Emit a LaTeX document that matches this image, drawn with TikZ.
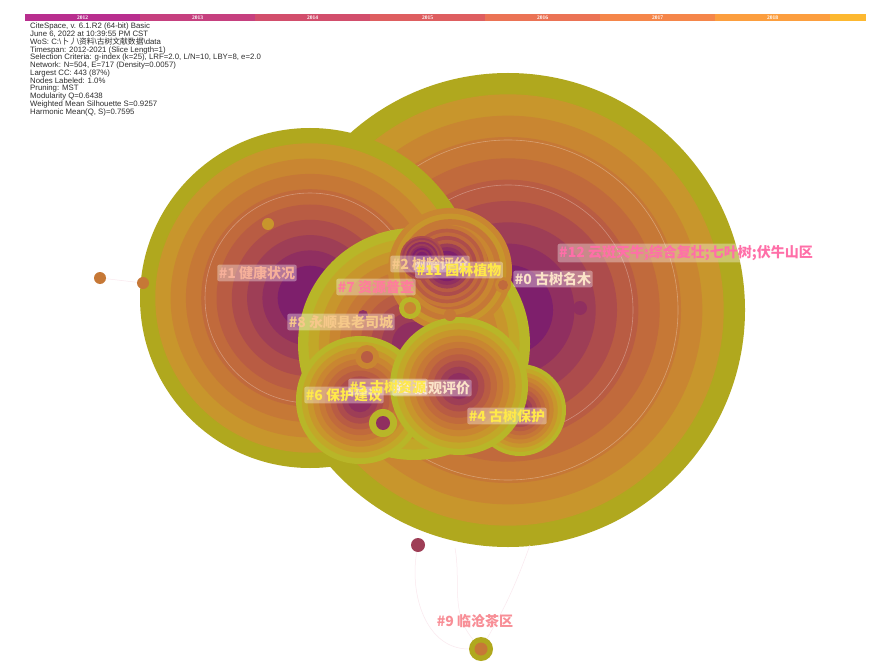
\documentclass[tikz,border=0pt]{standalone}
\usepackage{fontspec}
\setmainfont{Liberation Sans}
\newfontfamily\cjk{Noto Sans CJK SC}
\newfontfamily\yearfont{Liberation Serif}
\usepackage{tikz}
\definecolor{ring_a}{RGB}{176,168,30}
\definecolor{ring_b}{RGB}{200,150,44}
\definecolor{ring_c}{RGB}{201,134,49}
\definecolor{ring_d}{RGB}{198,120,54}
\definecolor{ring_e}{RGB}{193,106,60}
\definecolor{ring_f}{RGB}{185,92,67}
\definecolor{ring_g}{RGB}{173,76,76}
\definecolor{ring_h}{RGB}{158,62,86}
\definecolor{ring_i}{RGB}{144,47,96}
\definecolor{ring_j}{RGB}{126,31,108}
\definecolor{ring_l}{RGB}{184,182,40}
\definecolor{ring_m}{RGB}{194,168,40}
\definecolor{year_a}{RGB}{184,46,142}
\definecolor{year_b}{RGB}{198,64,127}
\definecolor{year_c}{RGB}{210,78,108}
\definecolor{year_d}{RGB}{222,94,96}
\definecolor{year_e}{RGB}{235,115,85}
\definecolor{year_f}{RGB}{245,134,74}
\definecolor{year_g}{RGB}{252,158,62}
\definecolor{year_h}{RGB}{253,184,48}
\definecolor{info_gray}{RGB}{45,45,45}
\definecolor{link_pink}{RGB}{250,232,238}
\definecolor{lab_peach}{RGB}{246,176,154}
\definecolor{lab_orange}{RGB}{246,200,138}
\definecolor{lab_yellow}{RGB}{255,233,74}
\definecolor{lab_pale}{RGB}{251,227,200}
\definecolor{lab_pink}{RGB}{255,124,156}
\definecolor{lab_rose}{RGB}{255,111,168}
\definecolor{lab_salmon}{RGB}{248,142,150}
\def\palbig{ring_a,ring_b,ring_c,ring_d,ring_e,ring_f,ring_g,ring_h,ring_i,ring_j}
\def\pallime{ring_l,ring_m,ring_b,ring_c,ring_d,ring_e,ring_f,ring_g,ring_h,ring_i}
\def\palwarm{ring_c,ring_b,ring_d,ring_c,ring_e,ring_d,ring_f,ring_g,ring_h,ring_i}
\def\paldark{ring_d,ring_f,ring_e,ring_g,ring_f,ring_h,ring_i,ring_j,ring_i,ring_j}
\def\paldeep{ring_g,ring_h,ring_g,ring_i,ring_h,ring_i,ring_j,ring_i,ring_j,ring_j}
% concentric year rings: name, centre, radius, colour list
\newcommand\treenode[4]{%
  \coordinate (#1) at (#2);
  \foreach \rc [count=\i from 0] in #4
    \fill[\rc] (#1) circle[radius={(#3)*(1-0.09*\i)*1pt}];
}

\begin{document}
\begin{tikzpicture}[x=1pt,y=-1pt]
    \tikzstyle{lbl}=[fill=white, fill opacity=0.35, text opacity=1, rounded corners=2pt, inner sep=1.6pt, font=\cjk\bfseries\fontsize{14}{16}\selectfont]
    \tikzstyle{dot}=[circle, inner sep=0pt]
    \tikzstyle{link}=[draw=link_pink, line width=0.5pt]
    \tikzstyle{trace}=[draw=white, draw opacity=0.3, line width=0.6pt]
    \tikzstyle{info}=[anchor=north west, align=left, inner sep=0pt, font=\fontsize{7.8}{7.75}\selectfont, text=info_gray]
    \tikzstyle{yr}=[inner sep=0pt, text=white, font=\yearfont\bfseries\fontsize{5.5}{6}\selectfont]

    \fill[white] (0,0) rectangle (896,668);
    \useasboundingbox (0,0) rectangle (896,668);

    \foreach \yy/\xa/\col in {2012/25/year_a,2013/140/year_b,2014/255/year_c,2015/370/year_d,2016/485/year_e,2017/600/year_f,2018/715/year_g}
    {
      \fill[\col] (\xa,14) rectangle ++(115,7);
      \node[yr] at (\xa+57.5,17.5) {\yy};
    }
    \fill[year_h] (830,14) rectangle (866,21);

    \node[info] (info) at (30,23) {CiteSpace, v. 6.1.R2 (64-bit) Basic\\
      June 6, 2022 at 10:39:55 PM CST\\
      WoS: C:\textbackslash{}{\cjk 卜丿}\textbackslash{}{\cjk 资料}\textbackslash{}{\cjk 古树文献数据}\textbackslash{}data\\
      Timespan: 2012-2021 (Slice Length=1)\\
      Selection Criteria: g-index (k=25), LRF=2.0, L/N=10, LBY=8, e=2.0\\
      Network: N=504, E=717 (Density=0.0057)\\
      Largest CC: 443 (87\%)\\
      Nodes Labeled: 1.0\%\\
      Pruning: MST\\
      Modularity Q=0.6438\\
      Weighted Mean Silhouette S=0.9257\\
      Harmonic Mean(Q, S)=0.7595};

    \treenode{c0}{508,310}{237}{\palbig}
    \draw[trace] (c0) circle[radius=170pt];
    \draw[trace] (c0) circle[radius=125pt];
    \treenode{c1}{310,298}{170}{\palbig}
    \draw[trace] (c1) circle[radius=105pt];
    \treenode{c7}{414,344}{116}{\pallime}
    \treenode{c2}{450,270}{62}{\palwarm}
    \treenode{c11}{447,266}{41}{\paldark}
    \treenode{c2in}{422,258}{22}{\paldeep}
    \treenode{c6}{360,400}{64}{\pallime}
    \treenode{c4}{520,410}{46}{\pallime}
    \treenode{c5}{459,386}{69}{\pallime}

    \node[dot, fill=ring_d, minimum size=12pt] (d1) at (100,278) {};
    \node[dot, fill=ring_d, minimum size=12pt] (d2) at (143,283) {};
    \node[dot, fill=ring_b, minimum size=12pt] (d3) at (268,224) {};
    \node[dot, fill=ring_i, minimum size=14pt] (d4) at (580,308) {};
    \node[dot, fill=ring_c, minimum size=16pt] (d5) at (503,285) {};
    \fill[ring_e] (d5) circle[radius=5pt];
    \node[dot, fill=ring_d, minimum size=12pt] (d6) at (450,315) {};
    \node[dot, fill=ring_l, minimum size=22pt] (d7) at (410,308) {};
    \fill[ring_c] (d7) circle[radius=6pt];
    \node[dot, fill=ring_c, minimum size=24pt] (d8) at (367,357) {};
    \fill[ring_f] (d8) circle[radius=6pt];
    \node[dot, fill=ring_l, minimum size=28pt] (d9) at (383,423) {};
    \fill[ring_i] (d9) circle[radius=7pt];
    \node[dot, fill=ring_i, minimum size=10pt] (d10) at (363,315) {};
    \node[dot, fill=ring_h, minimum size=14pt] (d11) at (418,545) {};
    \node[dot, fill=ring_a, minimum size=24pt] (d12) at (481,649) {};
    \fill[ring_d] (d12) circle[radius=6.5pt];

    \coordinate (e1) at (455,548);
    \coordinate (e2) at (530,545);
    \path[link]
     (d1) edge[] (d2)
     (d11) edge[out=-100, in=180] (d12)
     (e1) edge[out=-80, in=130] (d12)
     (e2) edge[out=-110, in=60] (d12)
     ;

    \node[lbl, text=lab_peach] (l1) at (257,273) {\#1 健康状况};
    \node[lbl, text=lab_orange] (l2) at (430,264) {\#2 树龄评价};
    \node[lbl, text=lab_yellow] (l11) at (459,270) {\#11 园林植物};
    \node[lbl, text=lab_pale] (l0) at (553,279) {\#0 古树名木};
    \node[lbl, text=lab_pink] (l7) at (376,287) {\#7 资源普查};
    \node[lbl, text=lab_orange] (l8) at (341,322) {\#8 永顺县老司城};
    \node[lbl, text=lab_rose] (l12) at (686,253) {\#12 云斑天牛;综合复壮;七叶树;伏牛山区};
    \node[lbl, text=lab_yellow] (l6) at (344,395) {\#6 保护建议};
    \node[lbl, text=lab_pale] (l3) at (432,388) {\#3 景观评价};
    \node[lbl, text=lab_yellow] (l5) at (388,387) {\#5 古树资源};
    \node[lbl, text=lab_yellow] (l4) at (507,416) {\#4 古树保护};
    \node[text=lab_salmon, inner sep=1.6pt, font=\cjk\bfseries\fontsize{14}{16}\selectfont] (l9) at (475,621) {\#9 临沧茶区};
\end{tikzpicture}
\end{document}
